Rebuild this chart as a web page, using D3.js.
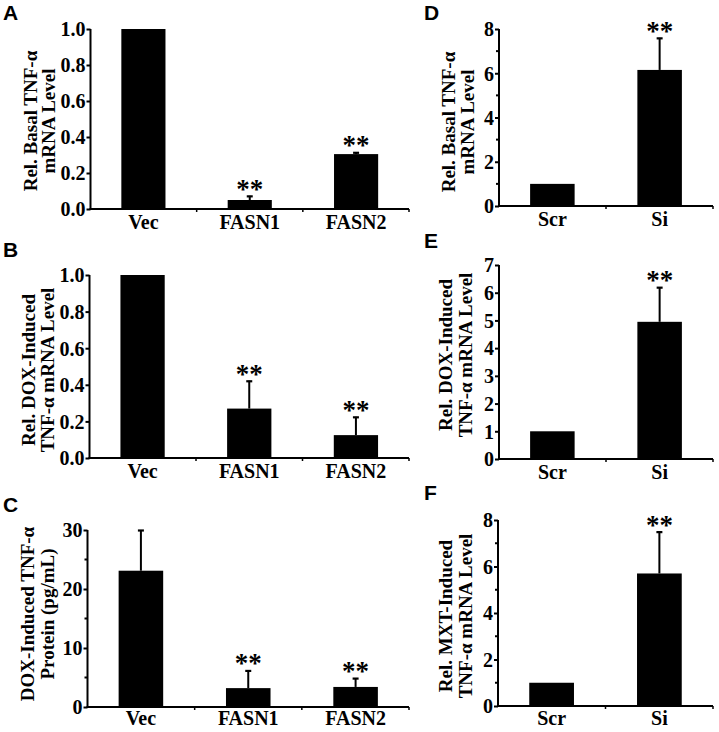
<!DOCTYPE html>
<html><head><meta charset="utf-8">
<script src="https://cdn.jsdelivr.net/npm/d3@7"></script>
<style>
html,body{margin:0;padding:0;background:#fff;}
svg text{font-family:"Liberation Serif","Times New Roman",serif;font-weight:bold;fill:#000;}
svg text.panel{font-family:"Liberation Sans",Arial,sans-serif;}
</style></head>
<body>
<svg id="chart" width="719" height="732"></svg>
<script>
// ---- data ----
const catsLeft = ["Vec", "FASN1", "FASN2"];
const catsRight = ["Scr", "Si"];

const aValues = [1.0, 0.05, 0.305];
const aErrors = [0, 0.023, 0.01];
const aSig = ["", "**", "**"];

const bValues = [1.0, 0.27, 0.125];
const bErrors = [0, 0.152, 0.1];
const bSig = ["", "**", "**"];

const cValues = [23.1, 3.2, 3.4];
const cErrors = [6.9, 3.0, 1.5];
const cSig = ["", "**", "**"];

const dValues = [1.0, 6.15];
const dErrors = [0, 1.45];
const dSig = ["", "**"];

const eValues = [1.0, 4.95];
const eErrors = [0, 1.25];
const eSig = ["", "**"];

const fValues = [1.0, 5.7];
const fErrors = [0, 1.8];
const fSig = ["", "**"];

const tickRel = [0, 0.2, 0.4, 0.6, 0.8, 1.0];
const tickProtein = [0, 10, 20, 30];
const minorProtein = [5, 15, 25];
const tickFold8 = [0, 2, 4, 6, 8];
const minorFold8 = [1, 3, 5, 7];
const tickFold7 = [0, 1, 2, 3, 4, 5, 6, 7];

const titleA = ["Rel. Basal TNF-α", "mRNA Level"];
const titleB = ["Rel. DOX-Induced", "TNF-α mRNA Level"];
const titleC = ["DOX-Induced TNF-α", "Protein (pg/mL)"];
const titleD = ["Rel. Basal TNF-α", "mRNA Level"];
const titleE = ["Rel. DOX-Induced", "TNF-α mRNA Level"];
const titleF = ["Rel. MXT-Induced", "TNF-α mRNA Level"];

// ---- layout ----
const panels = [
  {letter:"A", lx:3, ly:20, cats:catsLeft, vals:aValues, errs:aErrors, sig:aSig, max:1, ticks:tickRel, minor:[], fmt:d3.format(".1f"),
   title:titleA, tx:[30,48], ty:121, x0:90.5, x1:409, y0:29, y1:209},
  {letter:"B", lx:3, ly:257, cats:catsLeft, vals:bValues, errs:bErrors, sig:bSig, max:1, ticks:tickRel, minor:[], fmt:d3.format(".1f"),
   title:titleB, tx:[28,47], ty:370, x0:89.5, x1:409, y0:275, y1:458},
  {letter:"C", lx:3, ly:512, cats:catsLeft, vals:cValues, errs:cErrors, sig:cSig, max:30, ticks:tickProtein, minor:minorProtein, fmt:d3.format("d"),
   title:titleC, tx:[27,47], ty:614, x0:87.5, x1:409, y0:530, y1:707},
  {letter:"D", lx:424, ly:20, cats:catsRight, vals:dValues, errs:dErrors, sig:dSig, max:8, ticks:tickFold8, minor:minorFold8, fmt:d3.format("d"),
   title:titleD, tx:[448,467], ty:122, x0:499, x1:713, y0:29, y1:206},
  {letter:"E", lx:424, ly:248, cats:catsRight, vals:eValues, errs:eErrors, sig:eSig, max:7, ticks:tickFold7, minor:[], fmt:d3.format("d"),
   title:titleE, tx:[445,465], ty:355, x0:499, x1:713, y0:265, y1:459},
  {letter:"F", lx:424, ly:500, cats:catsRight, vals:fValues, errs:fErrors, sig:fSig, max:8, ticks:tickFold8, minor:minorFold8, fmt:d3.format("d"),
   title:titleF, tx:[445,465], ty:616, x0:498, x1:713, y0:520, y1:706}
];

const svg = d3.select("#chart");

panels.forEach(p => {
  const g = svg.append("g");
  const x = d3.scaleBand().domain(p.cats).range([p.x0, p.x1]).paddingInner(0.585).paddingOuter(0.29);
  const y = d3.scaleLinear().domain([0, p.max]).range([p.y1, p.y0]);

  // panel letter
  svg.append("text").attr("class","panel").attr("x", p.lx).attr("y", p.ly)
    .attr("font-size", 21).text(p.letter);

  // bars
  p.cats.forEach((c, i) => {
    g.append("rect").attr("x", x(c)).attr("width", x.bandwidth())
      .attr("y", y(p.vals[i])).attr("height", y(0) - y(p.vals[i])).attr("fill", "#000");
    if (p.errs[i] > 0) {
      const cx = x(c) + x.bandwidth() / 2;
      const top = y(p.vals[i] + p.errs[i]);
      g.append("line").attr("x1", cx).attr("x2", cx).attr("y1", y(p.vals[i])).attr("y2", top)
        .attr("stroke", "#000").attr("stroke-width", 2);
      g.append("line").attr("x1", cx - 3).attr("x2", cx + 3).attr("y1", top + 0.5).attr("y2", top + 0.5)
        .attr("stroke", "#000").attr("stroke-width", 2.2);
    }
    if (p.sig[i]) {
      const cx = x(c) + x.bandwidth() / 2;
      const top = y(p.vals[i] + p.errs[i]);
      g.append("text").attr("x", cx).attr("y", top + 2).attr("text-anchor", "middle")
        .attr("font-size", 27).text(p.sig[i]);
    }
  });

  // y axis
  const yAxis = d3.axisLeft(y).tickValues(p.ticks).tickFormat(p.fmt).tickSize(4).tickPadding(1);
  const ya = g.append("g").attr("transform", `translate(${p.x0},0)`).call(yAxis);
  ya.select(".domain").attr("stroke-width", 2).attr("d", `M0,${p.y0}V${p.y1 + 1}`);
  ya.selectAll(".tick line").attr("stroke-width", 2);
  ya.selectAll(".tick text").attr("font-size", 20).attr("font-family", null).attr("dy", "0.34em");
  if (p.minor.length) {
    g.selectAll(null).data(p.minor).enter().append("line")
      .attr("x1", p.x0 - 3).attr("x2", p.x0).attr("y1", d => y(d)).attr("y2", d => y(d))
      .attr("stroke", "#000").attr("stroke-width", 2);
  }

  // x axis
  g.append("line").attr("x1", p.x0 - 1).attr("x2", p.x1).attr("y1", p.y1).attr("y2", p.y1)
    .attr("stroke", "#000").attr("stroke-width", 2.2);
  const bounds = p.cats.map((c, i) => p.x0 + (i + 1) * (p.x1 - p.x0) / p.cats.length);
  g.selectAll(null).data(bounds).enter().append("line")
    .attr("x1", d => d).attr("x2", d => d).attr("y1", p.y1).attr("y2", p.y1 + 3)
    .attr("stroke", "#000").attr("stroke-width", 1.5);
  p.cats.forEach(c => {
    g.append("text").attr("x", x(c) + x.bandwidth() / 2).attr("y", Math.min(p.y1 + 20, 725))
      .attr("text-anchor", "middle").attr("font-size", 20).text(c);
  });

  // title
  p.title.forEach((t, k) => {
    svg.append("text")
      .attr("transform", `translate(${p.tx[k]},${p.ty}) rotate(-90)`)
      .attr("text-anchor", "middle").attr("dy", "0.35em")
      .attr("font-size", 19).text(t);
  });
});
</script>
</body></html>
